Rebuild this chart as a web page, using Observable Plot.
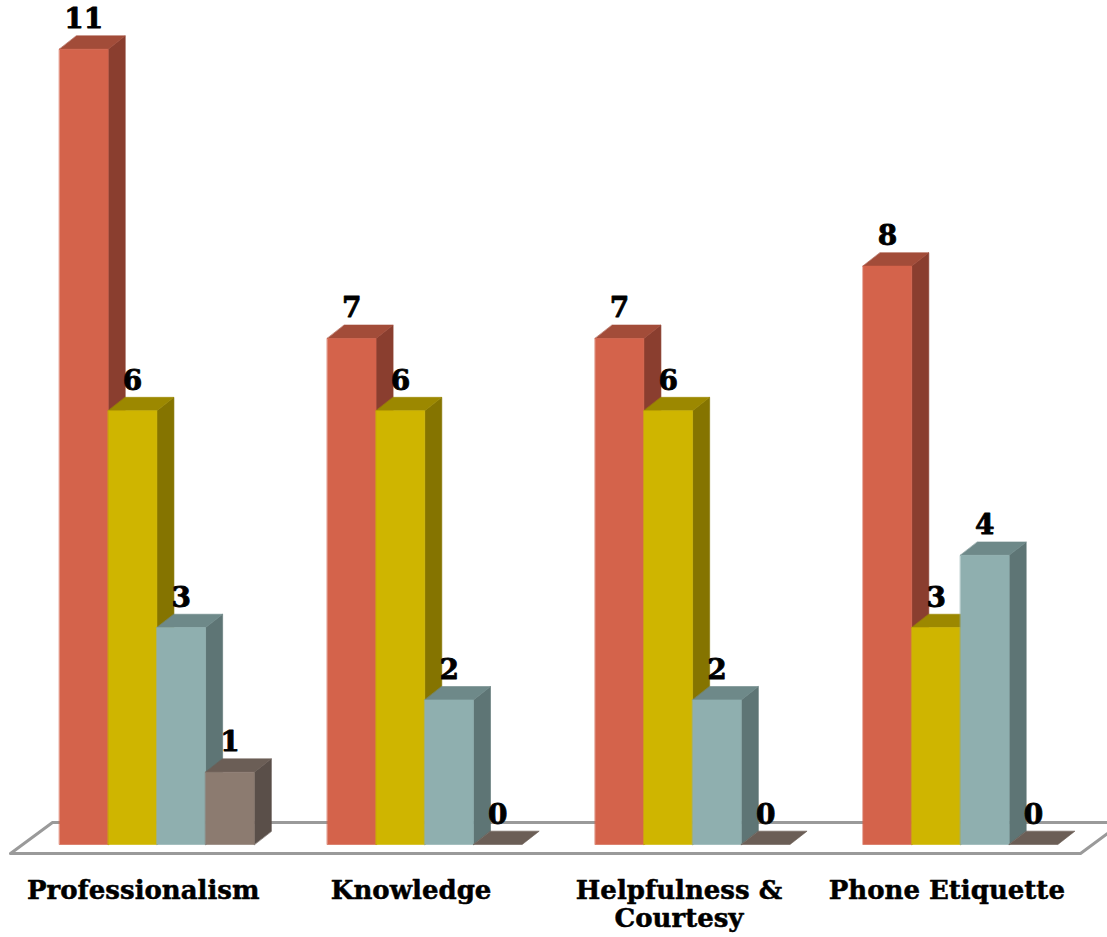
<!DOCTYPE html>
<html>
<head>
<meta charset="utf-8">
<script src="https://cdn.jsdelivr.net/npm/d3@7"></script>
<script src="https://cdn.jsdelivr.net/npm/@observablehq/plot@0.6"></script>
<style>
  html, body { margin: 0; padding: 0; background: #ffffff; }
  #chart svg { display: block; }
</style>
</head>
<body>
<div id="chart"></div>
<script>
// ---- Data ----
const categories = ["Professionalism", "Knowledge", "Helpfulness & Courtesy", "Phone Etiquette"];
const categoryLabels = ["Professionalism", "Knowledge", "Helpfulness &\nCourtesy", "Phone Etiquette"];
const seriesNames = ["Series 1", "Series 2", "Series 3", "Series 4"];
const series1 = [11, 7, 7, 8];
const series2 = [6, 6, 6, 3];
const series3 = [3, 2, 2, 4];
const series4 = [1, 0, 0, 0];
const seriesValues = [series1, series2, series3, series4];

// ---- Style ----
const frontColors = ["#D4634B", "#CFB500", "#8FAFAF", "#8C7B70"];
const topColors   = ["#A24C39", "#9C8800", "#6E8989", "#6B5E56"];
const sideColors  = ["#8A3E2F", "#857400", "#5E7575", "#5A4F49"];

// layout in data units (1 x-unit = one bar width, y in values)
const groupStep = 5.5;
const depthX = 0.35;
const depthY = 0.185;

// ---- Build faces ----
const faces = [];
const valueLabels = [];
let fid = 0;
categories.forEach((cat, g) => {
  seriesValues.forEach((vals, i) => {
    const v = vals[g];
    const x0 = g * groupStep + i, x1 = x0 + 1;
    const push = (pts, color) => {
      const id = fid++;
      pts.forEach(([x, y]) => faces.push({id, x, y, color}));
    };
    if (v > 0) {
      push([[x1, 0], [x1, v], [x1 + depthX, v + depthY], [x1 + depthX, depthY]], sideColors[i]);
    }
    push([[x0, v], [x1, v], [x1 + depthX, v + depthY], [x0 + depthX, v + depthY]], topColors[i]);
    if (v > 0) {
      push([[x0, 0], [x1, 0], [x1, v], [x0, v]], frontColors[i]);
    }
    valueLabels.push({x: x0 + 0.5, y: v, text: String(v), series: seriesNames[i]});
  });
});

// floor parallelogram
const floorLeft = -1.006, floorRight = 20.965, floorFront = -0.1245, floorBack = 0.304, floorDX = 0.862;
const floor = [
  {x: floorLeft, y: floorFront},
  {x: floorRight, y: floorFront},
  {x: floorRight + floorDX, y: floorBack},
  {x: floorLeft + floorDX, y: floorBack}
];

const catLabelData = categoryLabels.map((t, g) => ({x: g * groupStep + 2 - 0.28, y: -0.47, text: t}));

const chart = Plot.plot({
  width: 1107,
  height: 937,
  marginLeft: 0, marginRight: 0, marginTop: 0, marginBottom: 0,
  x: {type: "linear", domain: [-1.2115, 21.519], axis: null},
  y: {type: "linear", domain: [-1.2863, 11.6736], axis: null},
  color: {type: "identity"},
  style: {fontFamily: "DejaVu Serif", background: "#ffffff"},
  marks: [
    Plot.line(floor, {x: "x", y: "y", curve: "linear-closed", stroke: "#9a9a9a", strokeWidth: 3, fill: "none"}),
    Plot.line(faces, {x: "x", y: "y", z: "id", fill: "color", stroke: "color", strokeWidth: 0.6, curve: "linear-closed"}),
    Plot.text(valueLabels, {x: "x", y: "y", text: "text", dy: -21, lineAnchor: "bottom", fontSize: 28, fontWeight: "bold", fill: "#000", stroke: "#000", strokeWidth: 0.8}),
    Plot.text(catLabelData, {x: "x", y: "y", text: "text", lineAnchor: "top", fontSize: 26, fontWeight: "bold", lineHeight: 1.1, fill: "#000", stroke: "#000", strokeWidth: 0.5})
  ]
});
document.getElementById("chart").appendChild(chart);
</script>
</body>
</html>
